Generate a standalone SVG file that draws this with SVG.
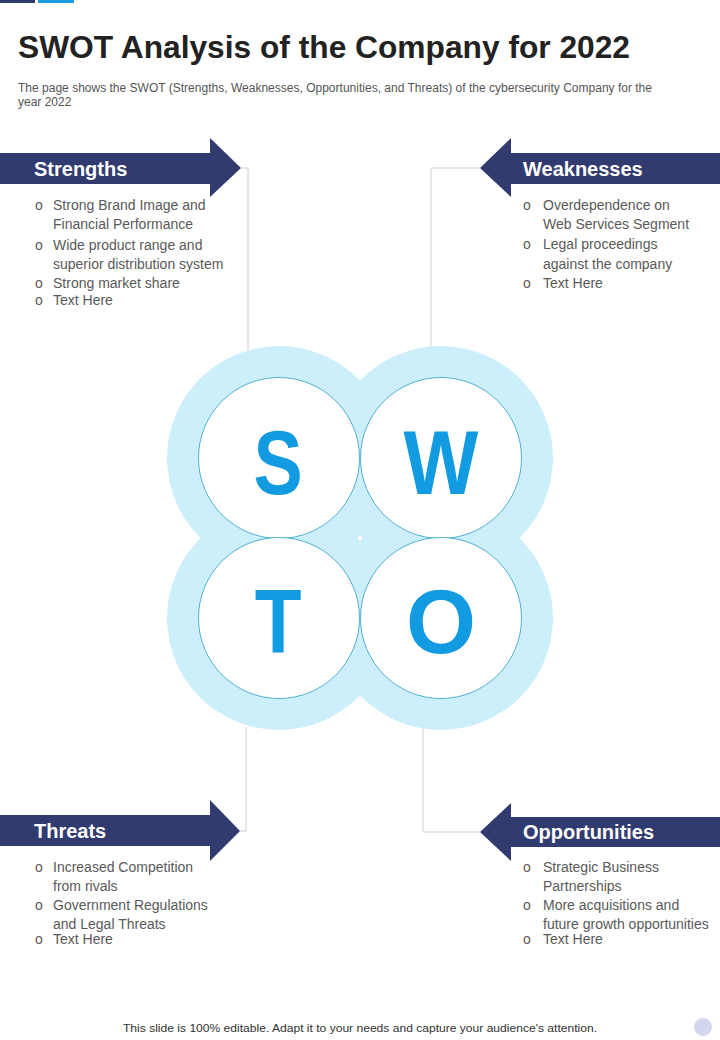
<svg xmlns="http://www.w3.org/2000/svg" width="720" height="1040" viewBox="0 0 720 1040">
<style>
.title{font-family:"Liberation Sans",Arial,sans-serif;font-weight:bold;font-size:32px;fill:#222}
.sub{font-family:"Liberation Sans",Arial,sans-serif;font-size:12px;fill:#555}
.head{font-family:"Liberation Sans",Arial,sans-serif;font-weight:bold;font-size:20px;fill:#fff}
.item{font-family:"Liberation Sans",Arial,sans-serif;font-size:14px;fill:#595959}
.bul{font-family:"Liberation Sans",Arial,sans-serif;font-size:14px;fill:#595959}
.arrow{fill:#323b6f}
.outer{fill:#cdeefb}
.inner{fill:#fff;stroke:#2a9fc4;stroke-width:0.8}
.letter{font-family:"Liberation Sans",Arial,sans-serif;font-weight:bold;font-size:90px;fill:#129be1;text-anchor:middle}
.conn{fill:none;stroke:#cfcfcf;stroke-width:1}
.foot{font-family:"Liberation Sans",Arial,sans-serif;font-size:11.5px;fill:#333;text-anchor:middle}
</style>
<rect width="720" height="1040" fill="#fff"/>
<rect x="0" y="0" width="35" height="3" fill="#323b6f"/>
<rect x="38" y="0" width="36" height="3" fill="#1a9be0"/>
<text class="title" x="18" y="58" textLength="612" lengthAdjust="spacingAndGlyphs">SWOT Analysis of the Company for 2022</text>
<text class="sub" x="18" y="92" textLength="634" lengthAdjust="spacingAndGlyphs">The page shows the SWOT (Strengths, Weaknesses, Opportunities, and Threats) of the cybersecurity Company for the</text>
<text class="sub" x="18" y="106">year 2022</text>

<g id="connectors">
<polyline class="conn" points="241,168 248,168 248,350"/>
<polyline class="conn" points="480,168 431,168 431,350"/>
<polyline class="conn" points="240,831 246,831 246,727"/>
<polyline class="conn" points="480,832 423,832 423,727"/>
</g>

<g id="swot-circles">
<circle class="outer" cx="279" cy="458" r="112"/>
<circle class="outer" cx="441" cy="458" r="112"/>
<circle class="outer" cx="279" cy="618" r="112"/>
<circle class="outer" cx="441" cy="618" r="112"/>
<circle class="inner" cx="279" cy="458" r="80.5"/>
<circle class="inner" cx="441" cy="458" r="80.5"/>
<circle class="inner" cx="279" cy="618" r="80.5"/>
<circle class="inner" cx="441" cy="618" r="80.5"/>
<text class="letter" x="278" y="494" transform="translate(278 0) scale(0.82 1) translate(-278 0)">S</text>
<text class="letter" x="441" y="494" transform="translate(441 0) scale(0.88 1) translate(-441 0)">W</text>
<text class="letter" x="278" y="653" transform="translate(278 0) scale(0.85 1) translate(-278 0)">T</text>
<text class="letter" x="441" y="653">O</text>
</g>

<g id="strengths">
<polygon class="arrow" points="0,153 210,153 210,138 241,168 210,197 210,184 0,184"/>
<text class="head" x="34" y="176">Strengths</text>
<text class="bul" x="35" y="210">o</text><text class="item" x="53" y="210">Strong Brand Image and</text>
<text class="item" x="53" y="229">Financial Performance</text>
<text class="bul" x="35" y="250">o</text><text class="item" x="53" y="250">Wide product range and</text>
<text class="item" x="53" y="269">superior distribution system</text>
<text class="bul" x="35" y="288">o</text><text class="item" x="53" y="288">Strong market share</text>
<text class="bul" x="35" y="305">o</text><text class="item" x="53" y="305">Text Here</text>
</g>

<g id="weaknesses">
<polygon class="arrow" points="720,153 511,153 511,138 480,168 511,197 511,184 720,184"/>
<text class="head" x="523" y="176">Weaknesses</text>
<text class="bul" x="523" y="210">o</text><text class="item" x="543" y="210">Overdependence on</text>
<text class="item" x="543" y="229">Web Services Segment</text>
<text class="bul" x="523" y="249">o</text><text class="item" x="543" y="249">Legal proceedings</text>
<text class="item" x="543" y="269">against the company</text>
<text class="bul" x="523" y="288">o</text><text class="item" x="543" y="288">Text Here</text>
</g>

<g id="threats">
<polygon class="arrow" points="0,815 210,815 210,800 240,831 210,861 210,846 0,846"/>
<text class="head" x="34" y="838">Threats</text>
<text class="bul" x="35" y="872">o</text><text class="item" x="53" y="872">Increased Competition</text>
<text class="item" x="53" y="891">from rivals</text>
<text class="bul" x="35" y="910">o</text><text class="item" x="53" y="910">Government Regulations</text>
<text class="item" x="53" y="929">and Legal Threats</text>
<text class="bul" x="35" y="944">o</text><text class="item" x="53" y="944">Text Here</text>
</g>

<g id="opportunities">
<polygon class="arrow" points="720,817 511,817 511,803 480,832 511,861 511,847 720,847"/>
<text class="head" x="523" y="839">Opportunities</text>
<text class="bul" x="523" y="872">o</text><text class="item" x="543" y="872">Strategic Business</text>
<text class="item" x="543" y="891">Partnerships</text>
<text class="bul" x="523" y="910">o</text><text class="item" x="543" y="910">More acquisitions and</text>
<text class="item" x="543" y="929">future growth opportunities</text>
<text class="bul" x="523" y="944">o</text><text class="item" x="543" y="944">Text Here</text>
</g>

<text class="foot" x="360" y="1032" textLength="474" lengthAdjust="spacingAndGlyphs">This slide is 100% editable. Adapt it to your needs and capture your audience's attention.</text>
<circle cx="703" cy="1027" r="9" fill="#d3d6ef"/>
</svg>
